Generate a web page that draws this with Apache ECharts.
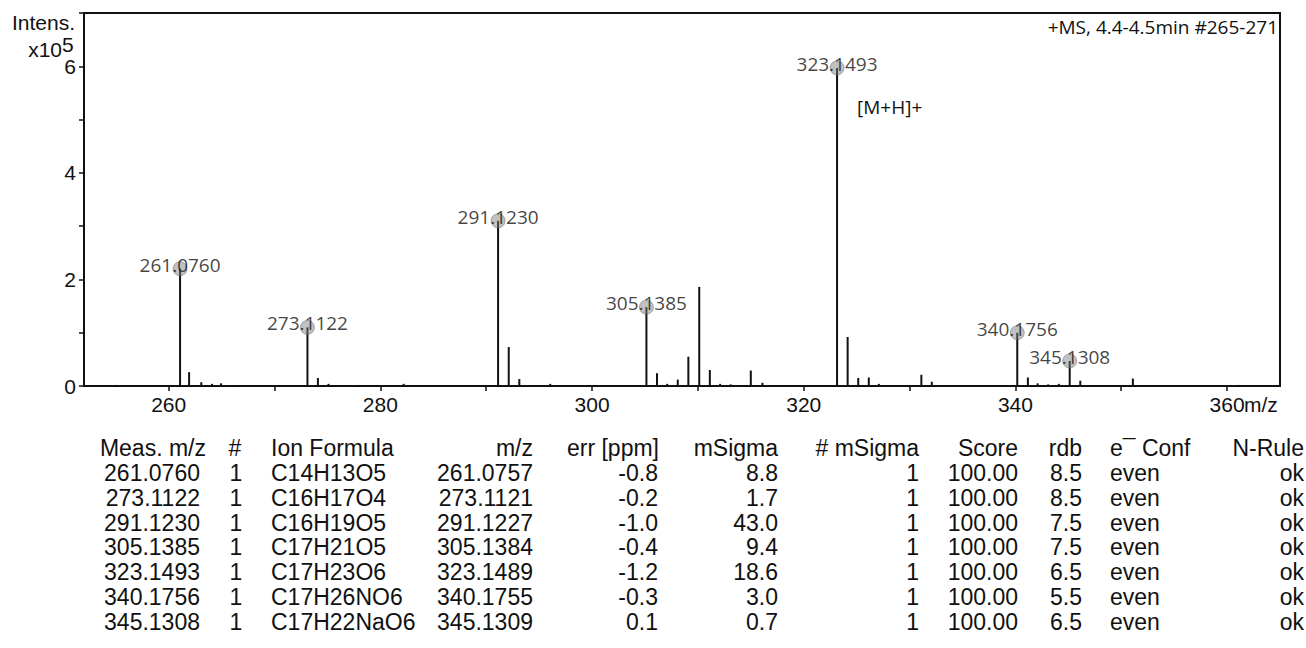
<!DOCTYPE html>
<html><head><meta charset="utf-8">
<script src="https://cdn.jsdelivr.net/npm/echarts@6/dist/echarts.min.js"></script>
<style>html,body{margin:0;padding:0;background:#fff}#c{width:1306px;height:648px}</style>
</head><body><div id="c"></div>
<script>
// ---- spectrum data (m/z, intensity x10^5) ----
const stickMz  = [255.0, 261.076, 261.93, 263.08, 264.1, 264.95, 266.0, 273.1122, 274.1, 275.1, 277.9, 282.2,
                  291.123, 292.13, 293.13, 296.05, 305.1385, 306.14, 307.1, 308.1, 309.1, 310.1292, 311.13, 312.1, 313.1,
                  315.0, 316.1, 323.1493, 324.15, 325.15, 326.15, 327.1, 331.1151, 332.1, 340.1756, 341.18, 342.1,
                  343.1, 344.1, 345.1308, 346.13, 351.1, 361.1];
const stickInt = [0.02, 2.2, 0.26, 0.07, 0.04, 0.05, 0.02, 1.1, 0.15, 0.04, 0.02, 0.04,
                  3.1, 0.73, 0.13, 0.04, 1.48, 0.24, 0.04, 0.12, 0.55, 1.86, 0.3, 0.04, 0.03,
                  0.29, 0.06, 5.97, 0.92, 0.15, 0.16, 0.04, 0.21, 0.08, 1.0, 0.16, 0.05,
                  0.03, 0.04, 0.47, 0.1, 0.14, 0.02];
// circled, labelled peaks
const circMz  = [261.0760, 273.1122, 291.1230, 305.1385, 323.1493, 340.1756, 345.1308];
const circInt = [2.2, 1.1, 3.1, 1.48, 5.97, 1.0, 0.47];
const circLbl = ['261.0760', '273.1122', '291.1230', '305.1385', '323.1493', '340.1756', '345.1308'];
// labelled peaks without circle
const plainMz  = [310.1292, 331.1151];
const plainInt = [1.86, 0.21];
const plainLbl = ['310.1292', '331.1151'];
// axis ticks
const xTicks  = [260, 270, 280, 290, 300, 310, 320, 330, 340, 350, 360];
const xLabels = [260, 280, 300, 320, 340, 360];
const yTicks  = [0, 1, 2, 3, 4, 5, 6, 7];
const yLabels = [0, 2, 4, 6];
// ---- results table ----
const measMz  = ['261.0760', '273.1122', '291.1230', '305.1385', '323.1493', '340.1756', '345.1308'];
const hitNo   = ['1', '1', '1', '1', '1', '1', '1'];
const formula = ['C14H13O5', 'C16H17O4', 'C16H19O5', 'C17H21O5', 'C17H23O6', 'C17H26NO6', 'C17H22NaO6'];
const calcMz  = ['261.0757', '273.1121', '291.1227', '305.1384', '323.1489', '340.1755', '345.1309'];
const errPpm  = ['-0.8', '-0.2', '-1.0', '-0.4', '-1.2', '-0.3', '0.1'];
const mSigma  = ['8.8', '1.7', '43.0', '9.4', '18.6', '3.0', '0.7'];
const nSigma  = ['1', '1', '1', '1', '1', '1', '1'];
const score   = ['100.00', '100.00', '100.00', '100.00', '100.00', '100.00', '100.00'];
const rdb     = ['8.5', '8.5', '7.5', '7.5', '6.5', '5.5', '6.5'];
const eConf   = ['even', 'even', 'even', 'even', 'even', 'even', 'even'];
const nRule   = ['ok', 'ok', 'ok', 'ok', 'ok', 'ok', 'ok'];
const headers = ['Meas. m/z', '#', 'Ion Formula', 'm/z', 'err [ppm]', 'mSigma', '# mSigma', 'Score', 'rdb', 'e\u00AF Conf', 'N-Rule'];

const INK = '#111';
const LBL_FONT = '"Open Sans", "DejaVu Sans", sans-serif';
const TAB_FONT = '"Liberation Sans", Arial, sans-serif';
const TAB_SIZE = 23;

const columns = [
  {vals: measMz,  hx: 206,  x: 200,  align: 'right'},
  {vals: hitNo,   hx: 235,  x: 236,  align: 'center'},
  {vals: formula, hx: 271,  x: 271,  align: 'left'},
  {vals: calcMz,  hx: 533,  x: 533,  align: 'right'},
  {vals: errPpm,  hx: 659,  x: 658,  align: 'right'},
  {vals: mSigma,  hx: 778,  x: 778,  align: 'right'},
  {vals: nSigma,  hx: 919,  x: 919,  align: 'right'},
  {vals: score,   hx: 1018, x: 1018, align: 'right'},
  {vals: rdb,     hx: 1082, x: 1082, align: 'right'},
  {vals: eConf,   hx: 1110, x: 1110, align: 'left'},
  {vals: nRule,   hx: 1304, x: 1304, align: 'right'}
];
const headerY = 448, rowY0 = 473, rowH = 24.8;

function txt(text, x, y, align, font, size, extra) {
  return {
    type: 'text', silent: true,
    style: Object.assign({
      text: text, x: x, y: y, fill: INK,
      textAlign: align, align: align, textVerticalAlign: 'middle', verticalAlign: 'middle',
      fontFamily: font, fontSize: size
    }, extra || {})
  };
}

const graphics = [];
columns.forEach((c, ci) => {
  graphics.push(txt(headers[ci], c.hx, headerY, c.align, TAB_FONT, TAB_SIZE, {lineHeight: 24}));
  c.vals.forEach((v, ri) => graphics.push(txt(v, c.x, rowY0 + ri * rowH, c.align, TAB_FONT, TAB_SIZE, {lineHeight: 24})));
});
// axis title annotations
graphics.push(txt('Intens.', 75, 22, 'right', TAB_FONT, 21, {lineHeight: 20}));
graphics.push(txt('x10', 62, 49, 'right', TAB_FONT, 21, {lineHeight: 18}));
graphics.push(txt('5', 62, 44, 'left', TAB_FONT, 21, {lineHeight: 18}));
graphics.push(txt('m/z', 1244, 404, 'left', TAB_FONT, 21, {lineHeight: 20}));
graphics.push(txt('+MS, 4.4-4.5min #265-271', 1278, 27, 'right', LBL_FONT, 19));
graphics.push(txt('[M+H]+', 857, 107, 'left', LBL_FONT, 19));

const chart = echarts.init(document.getElementById('c'), null, {renderer: 'svg'});
chart.setOption({
  animation: false,
  backgroundColor: '#fff',
  grid: {left: 84, right: 26, top: 13, bottom: 262, show: true, borderColor: INK, borderWidth: 2, backgroundColor: 'transparent'},
  xAxis: {
    type: 'value', min: 252, max: 365,
    axisLine: {show: true, lineStyle: {color: INK, width: 2}},
    axisTick: {show: true, customValues: xTicks, length: 5, inside: false, lineStyle: {color: INK, width: 1.5}},
    axisLabel: {show: true, customValues: xLabels, color: INK, fontFamily: TAB_FONT, fontSize: 21, margin: 8},
    splitLine: {show: false}
  },
  yAxis: {
    type: 'value', min: 0, max: 7,
    axisLine: {show: true, lineStyle: {color: INK, width: 2}},
    axisTick: {show: true, customValues: yTicks, length: 5, lineStyle: {color: INK, width: 1.5}},
    axisLabel: {show: true, customValues: yLabels, color: INK, fontFamily: TAB_FONT, fontSize: 21, margin: 8},
    splitLine: {show: false}
  },
  series: [
    {
      type: 'custom', name: 'spectrum',
      data: stickMz.map((m, i) => [m, stickInt[i]]),
      encode: {x: 0, y: 1},
      renderItem: function (params, api) {
        const x = api.value(0), y = api.value(1);
        const p0 = api.coord([x, 0]), p1 = api.coord([x, y]);
        return {type: 'line', shape: {x1: p0[0], y1: p0[1], x2: p1[0], y2: p1[1]},
                style: {stroke: INK, lineWidth: 2}};
      },
      z: 2
    },
    {
      type: 'scatter', name: 'circled',
      data: circMz.map((m, i) => ({value: [m, circInt[i]], label: {formatter: circLbl[i]}})),
      symbol: 'circle', symbolSize: 14,
      itemStyle: {color: 'rgba(125,125,125,0.6)', borderColor: 'rgba(100,100,100,0.6)', borderWidth: 1},
      label: {show: true, position: 'inside', offset: [0, -4], color: INK, fontFamily: LBL_FONT, fontSize: 19},
      z: 3
    },
    {
      type: 'scatter', name: 'plain',
      data: plainMz.map((m, i) => ({value: [m, plainInt[i]], label: {formatter: plainLbl[i]}})),
      symbol: 'none', symbolSize: 0,
      label: {show: true, position: 'inside', offset: [0, -13], color: INK, fontFamily: LBL_FONT, fontSize: 19},
      z: 3
    }
  ],
  graphic: graphics
});
</script>
</body></html>
